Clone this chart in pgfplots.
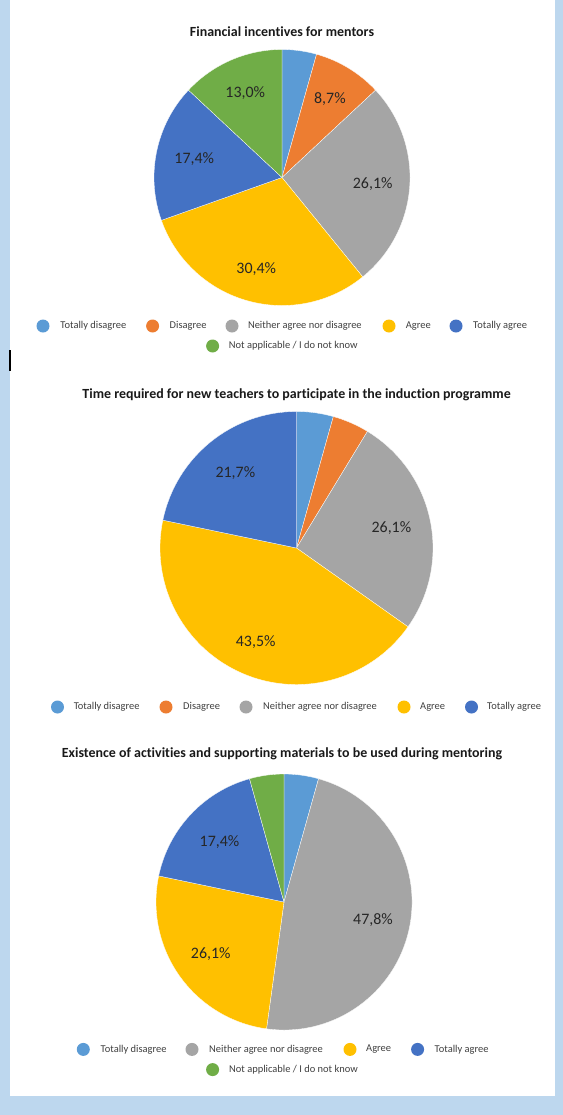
\documentclass[border=0pt]{standalone}
\usepackage{fontspec}
\setmainfont{Carlito}[Ligatures=NoCommon]
\usepackage{pgfplots}
\pgfplotsset{compat=1.18}
\definecolor{bgblue}{HTML}{BDD7EE}
\definecolor{cTD}{HTML}{5B9BD5}
\definecolor{cD}{HTML}{ED7D31}
\definecolor{cN}{HTML}{A5A5A5}
\definecolor{cA}{HTML}{FFC000}
\definecolor{cTA}{HTML}{4472C4}
\definecolor{cNA}{HTML}{70AD47}
\definecolor{labtext}{HTML}{262626}
\definecolor{legtext}{HTML}{404040}
% slice: cx, cy, r, start (percent), value (percent), colour
\newcommand{\slice}[6]{%
  \fill[#6, draw=white, line width=0.3bp] (axis cs:#1,#2) -- ++({90-3.6*(#4)}:#3bp)
     arc[start angle={90-3.6*(#4)}, delta angle={-3.6*(#5)}, radius=#3bp] -- cycle;}
% label: cx, cy, r, start, value, factor, text
\newcommand{\plabel}[7]{%
  \path (axis cs:#1,#2) ++({90-3.6*(#4+0.5*#5)}:{#6*#3bp})
     node[inner sep=0pt, text=labtext, font=\fontsize{16}{19}\selectfont] {#7};}
% legend: circle x, y, text x, colour, text
\newcommand{\legitem}[5]{%
  \fill[#4] (axis cs:#1,#2) circle[radius=6.5bp];
  \node[anchor=west, inner sep=0pt, text=legtext, font=\fontsize{10.5}{12}\selectfont] at (axis cs:#3,#2) {#5};}
\newcommand{\ctitle}[3]{%
  \node[inner sep=0pt, font=\bfseries\fontsize{14}{16}\selectfont, text=black!90] at (axis cs:#1,#2) {#3};}
\begin{document}
\begin{tikzpicture}
\begin{axis}[
  x=1bp, y=1bp, y dir=reverse,
  xmin=0, xmax=563, ymin=0, ymax=1115,
  scale only axis, hide axis, clip=false]
% background
\fill[bgblue] (axis cs:0,0) rectangle (axis cs:563,1115);
\fill[white] (axis cs:10,0) rectangle (axis cs:555,1096);
\fill[black] (axis cs:9.3,350) rectangle (axis cs:11,371);

% ---------- Chart 1: Financial incentives for mentors ----------
\ctitle{282}{32}{Financial incentives for mentors}
% values (%): TD 4.35, D 8.70, N 26.09, A 30.43, TA 17.39, NA 13.04
\slice{282}{177.5}{128}{0}{4.35}{cTD}
\slice{282}{177.5}{128}{4.35}{8.70}{cD}
\slice{282}{177.5}{128}{13.05}{26.09}{cN}
\slice{282}{177.5}{128}{39.14}{30.43}{cA}
\slice{282}{177.5}{128}{69.57}{17.39}{cTA}
\slice{282}{177.5}{128}{86.96}{13.04}{cNA}
\plabel{282}{177.5}{128}{4.35}{8.70}{0.72}{8,7\%}
\plabel{282}{177.5}{128}{13.05}{26.09}{0.71}{26,1\%}
\plabel{282}{177.5}{128}{39.14}{30.43}{0.745}{30,4\%}
\plabel{282}{177.5}{128}{69.57}{17.39}{0.70}{17,4\%}
\plabel{282}{177.5}{128}{86.96}{13.04}{0.72}{13,0\%}
\legitem{43}{326}{60.3}{cTD}{Totally disagree}
\legitem{152.6}{326}{169.5}{cD}{Disagree}
\legitem{232}{326}{247.8}{cN}{Neither agree nor disagree}
\legitem{389}{326}{405.7}{cA}{Agree}
\legitem{456}{326}{473}{cTA}{Totally agree}
\legitem{212.6}{346}{228.7}{cNA}{Not applicable / I do not know}

% ---------- Chart 2 ----------
\ctitle{296.6}{395}{Time required for new teachers to participate in the induction programme}
% values (%): TD 4.35, D 4.35, N 26.09, A 43.48, TA 21.74
\slice{296.5}{548}{136.5}{0}{4.35}{cTD}
\slice{296.5}{548}{136.5}{4.35}{4.35}{cD}
\slice{296.5}{548}{136.5}{8.70}{26.09}{cN}
\slice{296.5}{548}{136.5}{34.79}{43.48}{cA}
\slice{296.5}{548}{136.5}{78.27}{21.74}{cTA}
\plabel{296.5}{548}{136.5}{8.70}{26.09}{0.71}{26,1\%}
\plabel{296.5}{548}{136.5}{34.79}{43.48}{0.75}{43,5\%}
\plabel{296.5}{548}{136.5}{78.27}{21.74}{0.71}{21,7\%}
\legitem{57.5}{707}{73.6}{cTD}{Totally disagree}
\legitem{166}{707}{183}{cD}{Disagree}
\legitem{246}{707}{263}{cN}{Neither agree nor disagree}
\legitem{404}{707}{420}{cA}{Agree}
\legitem{471.5}{707}{487}{cTA}{Totally agree}

% ---------- Chart 3 ----------
\ctitle{282}{754}{Existence of activities and supporting materials to be used during mentoring}
% values (%): TD 4.35, N 47.83, A 26.09, TA 17.39, NA 4.35
\slice{284}{902}{128}{0}{4.35}{cTD}
\slice{284}{902}{128}{4.35}{47.83}{cN}
\slice{284}{902}{128}{52.18}{26.09}{cA}
\slice{284}{902}{128}{78.27}{17.39}{cTA}
\slice{284}{902}{128}{95.66}{4.35}{cNA}
\plabel{284}{902}{128}{4.35}{47.83}{0.71}{47,8\%}
\plabel{284}{902}{128}{52.18}{26.09}{0.70}{26,1\%}
\plabel{284}{902}{128}{78.27}{17.39}{0.69}{17,4\%}
\legitem{83.3}{1049.4}{100.5}{cTD}{Totally disagree}
\legitem{192}{1049.4}{209}{cN}{Neither agree nor disagree}
\legitem{350}{1049.4}{366}{cA}{Agree}
\legitem{417.6}{1049.4}{434.5}{cTA}{Totally agree}
\legitem{212.6}{1069.6}{229}{cNA}{Not applicable / I do not know}
\end{axis}
\end{tikzpicture}
\end{document}
